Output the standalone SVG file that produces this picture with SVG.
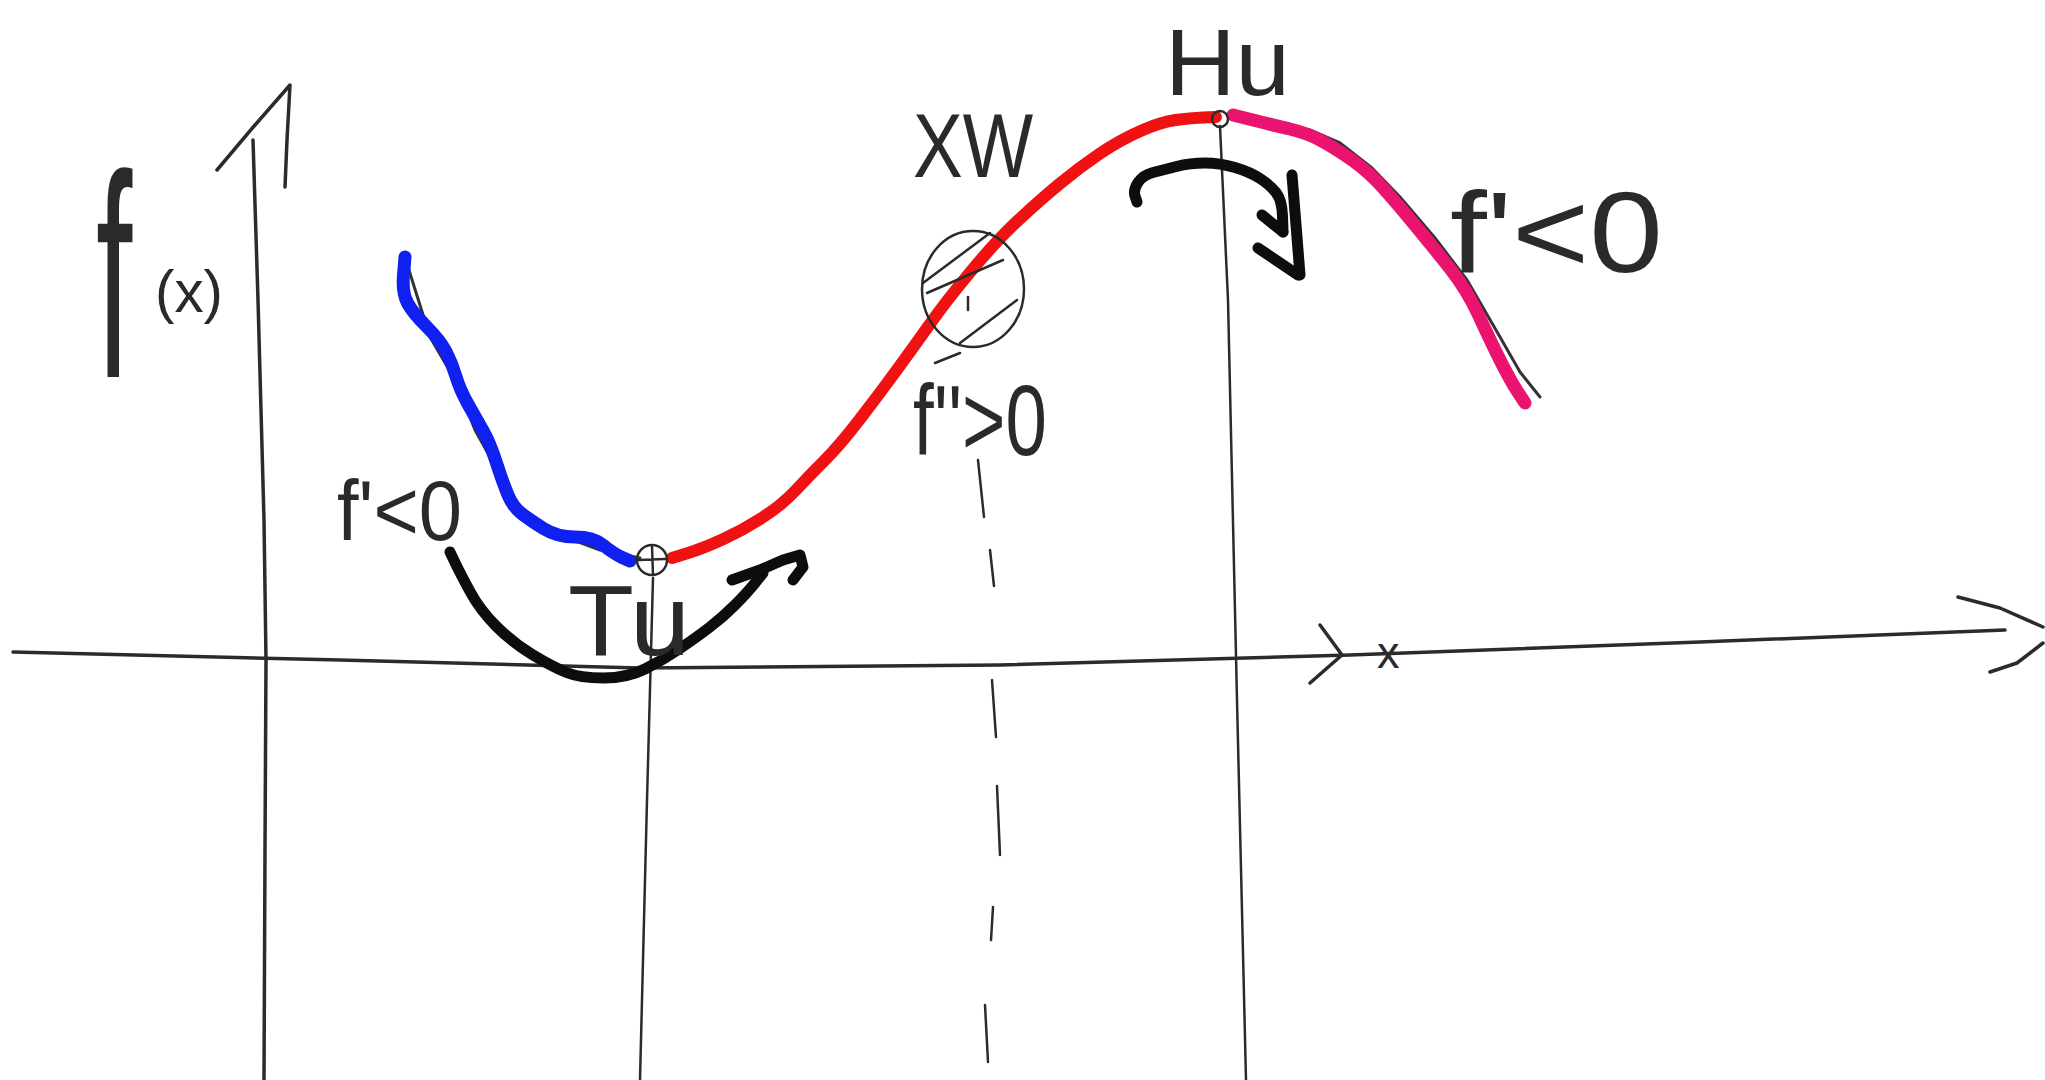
<svg xmlns="http://www.w3.org/2000/svg" width="2045" height="1080" viewBox="0 0 2045 1080">
<style>
.axis{fill:none;stroke:#2b2b2b;stroke-width:3.5;stroke-linecap:round;stroke-linejoin:round}
.pencil{fill:none;stroke:#333;stroke-width:3;stroke-linecap:round;stroke-linejoin:round}
.thin{fill:none;stroke:#2b2b2b;stroke-width:2.5;stroke-linecap:round;stroke-linejoin:round}
.thick{fill:none;stroke:#0d0d0d;stroke-width:11;stroke-linecap:round;stroke-linejoin:round}
.blue{fill:none;stroke:#1020f0;stroke-width:13;stroke-linecap:round;stroke-linejoin:round}
.red{fill:none;stroke:#f01212;stroke-width:12;stroke-linecap:round;stroke-linejoin:round}
.pink{fill:none;stroke:#ea1470;stroke-width:13;stroke-linecap:round;stroke-linejoin:round}
.lbl{font-family:"Liberation Sans","DejaVu Sans",sans-serif;fill:#2a2a2a}
</style>
<rect width="2045" height="1080" fill="#ffffff"/>
<g id="connectors">
  <!-- y axis -->
  <path class="axis" d="M253,140 L258,300 L264,520 L266,660 L265,850 L264,1080"/>
  <path class="axis" d="M217,170 L255,125 L290,85 L287,140 L285,187"/>
  <!-- x axis -->
  <path class="axis" d="M13,652 L340,660 L640,668 L1000,665 L1350,655 L1700,642 L2005,630"/>
  <path class="axis" d="M1958,597 L2000,608 L2043,627"/>
  <path class="axis" d="M2043,643 L2017,663 L1990,672"/>
  <path class="axis" d="M1320,625 L1342,655 L1310,683"/>
  <!-- vertical guides -->
  <path class="thin" d="M653,578 L647,800 L640,1080"/>
  <path class="thin" d="M1220,126 L1228,300 L1237,700 L1246,1080"/>
  <g id="dashed-guide" class="thin" stroke-width="3">
    <path d="M978,460 L984,517"/>
    <path d="M990,550 L994,586"/>
    <path d="M992,680 L996,737"/>
    <path d="M997,786 L1000,855"/>
    <path d="M993,907 L991,940"/>
    <path d="M985,1005 L988,1062"/>
  </g>
  <!-- pencil curve under colour -->
  <path class="pencil" d="M408,267 L430,337 L455,380 L475,430 L500,475 L520,510 L560,535 L600,550 L640,558"/>
  <path class="pencil" d="M1233,113 L1275,123 L1310,130 L1340,143 L1372,168 L1400,197 L1435,238 L1467,280 L1500,337 L1520,372 L1540,397"/>
  <!-- coloured curve -->
  <path class="blue" d="M405,257 L403.5,275 Q402,293 407.5,303 Q413,313 426.5,326.5 Q440,340 446,351.5 Q452,363 456,376.5 Q460,390 468.5,405 Q477,420 483.5,431.5 Q490,443 496.5,463 Q503,483 508,495 Q513,507 521.5,513.5 Q530,520 543.5,528.5 Q557,537 575,537 Q593,537 603,545 Q613,553 621,557 L630,561"/>
  <path class="red" d="M672,558 L688,553 Q704,548 723.5,539 Q743,530 762.5,517.5 Q782,505 796,490 Q810,475 825,460 Q840,445 860,419 Q880,393 897.5,369 Q915,345 931,322.5 Q947,300 972,270 Q997,240 1018.5,220 Q1040,200 1060,183.5 Q1080,167 1100,153.5 Q1120,140 1140.5,131 Q1161,122 1175.5,120 Q1190,118 1203,117.5 L1216,117"/>
  <path class="pink" d="M1233,115 L1253,120 Q1273,125 1290,129 Q1307,133 1321,140.5 Q1335,148 1352,160 Q1369,172 1384.5,189.5 Q1400,207 1416.5,227 Q1433,247 1450,268.5 Q1467,290 1478.5,315 Q1490,340 1500,360 Q1510,380 1517.5,391.5 L1525,403"/>
  <!-- bottom turning arrow -->
  <path class="thick" d="M450,552 L455,562.5 Q460,573 470,591.5 Q480,610 496.5,626.5 Q513,643 533,655 Q553,667 566.5,672.5 Q580,678 603.5,678 Q627,678 645,669 Q663,660 680,648.5 Q697,637 710,627 Q723,617 735,605 Q747,593 755,583 L763,573"/>
  <path class="thick" d="M732,580 L760,570 L783,560 L800,555 L803,567 L793,580"/>
  <!-- top turning arrow -->
  <path class="thick" d="M1137,202 L1135,196 Q1133,190 1138,182.5 Q1143,175 1153,172.5 Q1163,170 1176.5,166.5 Q1190,163 1205,163 Q1220,163 1235,167.5 Q1250,172 1260,178.5 Q1270,185 1276,192.5 Q1282,200 1282.5,216 L1283,232"/>
  <path class="thick" d="M1262,215 L1283,232"/>
  <path class="thick" d="M1258,248 L1298,275"/>
  <path class="thick" d="M1292,175 L1296,225 L1300,275"/>
</g>
<g id="min-point">
  <circle cx="652" cy="560" r="15" class="thin" stroke-width="3.5"/>
  <path class="thin" d="M652,546 L653,575 M639,560 L665,559"/>
</g>
<g id="max-point">
  <circle cx="1220" cy="119" r="8" class="thin"/>
</g>
<g id="inflection-point">
  <ellipse cx="973" cy="289" rx="51" ry="58" class="thin" stroke-width="3"/>
  <path class="thin" d="M923,283 L990,233 M927,293 L1003,260 M960,343 L1017,300 M968,297 L968,310 M935,363 L960,353"/>
</g>
<g id="label-fx">
  <text class="lbl" transform="translate(96,377) scale(0.45,1)" font-size="290">f</text>
  <text class="lbl" x="155" y="312" font-size="60" textLength="68" lengthAdjust="spacingAndGlyphs">(x)</text>
</g>
<g id="label-left-deriv">
  <text class="lbl" x="337" y="540" font-size="85" textLength="125" lengthAdjust="spacingAndGlyphs">f'&lt;0</text>
</g>
<g id="label-min">
  <text class="lbl" x="568" y="655" font-size="100" textLength="122" lengthAdjust="spacingAndGlyphs">Tu</text>
</g>
<g id="label-xw">
  <text class="lbl" x="913" y="177" font-size="90" textLength="120" lengthAdjust="spacingAndGlyphs">XW</text>
</g>
<g id="label-second-deriv">
  <text class="lbl" x="913" y="455" font-size="100" textLength="134" lengthAdjust="spacingAndGlyphs">f''&gt;0</text>
</g>
<g id="label-max">
  <text class="lbl" x="1165" y="95" font-size="95" textLength="125" lengthAdjust="spacingAndGlyphs">Hu</text>
</g>
<g id="label-right-deriv">
  <text class="lbl" x="1450" y="272" font-size="115" textLength="213" lengthAdjust="spacingAndGlyphs">f'&lt;0</text>
</g>
<g id="label-x">
  <text class="lbl" x="1377" y="668" font-size="45">x</text>
</g>
</svg>
